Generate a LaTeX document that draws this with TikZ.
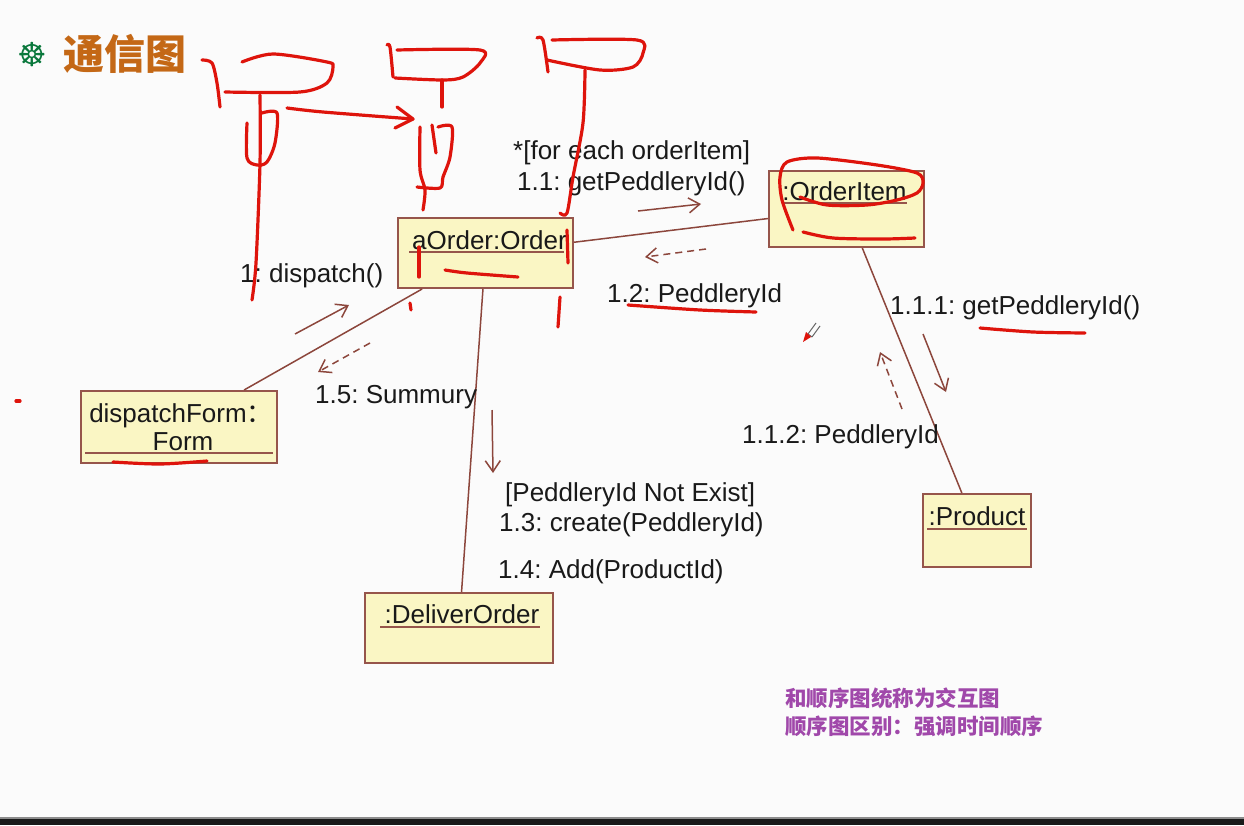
\documentclass[tikz,border=0pt]{standalone}
\usepackage{fontspec}
\setmainfont{Liberation Sans}
\newfontfamily\cjk{Noto Sans CJK SC}
\newfontfamily\symf{DejaVu Sans}
\usetikzlibrary{arrows.meta,calc}
\frenchspacing
\definecolor{bg}{RGB}{251,251,251}
\definecolor{boxfill}{RGB}{250,246,196}
\definecolor{boxline}{RGB}{150,85,75}
\definecolor{linkc}{RGB}{140,70,60}
\definecolor{ink}{RGB}{25,25,25}
\definecolor{pen}{RGB}{222,20,12}
\definecolor{titlec}{RGB}{196,104,22}
\definecolor{bulletc}{RGB}{10,120,60}
\definecolor{notec}{RGB}{160,72,170}
\begin{document}
\begin{tikzpicture}[x=1pt,y=-1pt,
  obj/.style={draw=boxline, fill=boxfill, line width=2pt, inner sep=0pt, rectangle},
  objtext/.style={inner sep=0pt, text=ink, font=\fontsize{26}{29}\selectfont, text height=18pt, text depth=0pt},
  uline/.style={draw=boxline, line width=1.5pt},
  linkline/.style={draw=linkc, line width=1.5pt},
  lbl/.style={inner sep=0pt, anchor=west, text=ink, font=\fontsize{26}{29}\selectfont, text height=18pt, text depth=0pt},
  msg/.style={draw=linkc, line width=1.5pt, -{Straight Barb[length=11pt,width=15pt]}},
  retmsg/.style={msg, dash pattern=on 7pt off 5pt},
  penline/.style={draw=pen, line width=3.2pt, line cap=round, line join=round},
  note/.style={inner sep=0pt, anchor=west, text=notec, font=\cjk\bfseries\fontsize{21.5}{24}\selectfont}
]
% background and frame
\fill[bg] (0,0) rectangle (1244,825);
\useasboundingbox (0,0) rectangle (1244,825);
\fill[black!45] (0,817) rectangle (1244,819);
\fill[black!90] (0,819) rectangle (1244,825);

% title
\node[inner sep=0pt, text=bulletc, font=\symf\bfseries\fontsize{33}{35}\selectfont] (bullet) at (32,55) {☸};
\node[inner sep=0pt, text=titlec, font=\cjk\bfseries\fontsize{41}{45}\selectfont] (title) at (125,54) {通信图};

% object boxes
\node[obj, minimum width=175, minimum height=70] (order) at (485.5,253) {};
\node[obj, minimum width=155, minimum height=76] (item) at (846.5,209) {};
\node[obj, minimum width=196, minimum height=72] (form) at (179,427) {};
\node[obj, minimum width=108, minimum height=73] (product) at (977,530.5) {};
\node[obj, minimum width=188, minimum height=70] (deliver) at (459,628) {};

\node[objtext] (ordert) at (489.5,240) {aOrder:Order};
\draw[uline] (409,252) -- (564,252);
\node[objtext] (itemt) at (844.5,191) {:OrderItem};
\draw[uline] (782,203) -- (907,203);
\node[objtext] (formt1) at (181,413) {dispatchForm{\cjk ：}};
\node[objtext] (formt2) at (183,441) {Form};
\draw[uline] (85,453) -- (273,453);
\node[objtext] (productt) at (977,516) {:Product};
\draw[uline] (927,529) -- (1027,529);
\node[objtext] (delivert) at (462,614) {:DeliverOrder};
\draw[uline] (380,627) -- (540,627);

% links
\draw[linkline] (order) -- (item);
\draw[linkline] (order) -- (form);
\draw[linkline] (order) -- (deliver);
\draw[linkline] (item) -- (product);

% message arrows
\coordinate (m11a) at (638,211); \coordinate (m11b) at (701,204);
\coordinate (m12a) at (706,249); \coordinate (m12b) at (645,257);
\coordinate (m1a) at (295,334); \coordinate (m1b) at (349,305);
\coordinate (m15a) at (370,343); \coordinate (m15b) at (318,372);
\coordinate (m13a) at (492,410); \coordinate (m13b) at (493,473);
\coordinate (m111a) at (923,334); \coordinate (m111b) at (946,392);
\coordinate (m112a) at (902,409); \coordinate (m112b) at (880,352);
\draw[msg] (m11a) -- (m11b);
\draw[retmsg] (m12a) -- (m12b);
\draw[msg] (m1a) -- (m1b);
\draw[retmsg] (m15a) -- (m15b);
\draw[msg] (m13a) -- (m13b);
\draw[msg] (m111a) -- (m111b);
\draw[retmsg] (m112a) -- (m112b);

% message labels
\node[lbl] (l11g) at (513,150) {*[for each orderItem]};
\node[lbl] (l11) at (517,181) {1.1: getPeddleryId()};
\node[lbl] (l12) at (607,293) {1.2: PeddleryId};
\node[lbl] (l1) at (240,273) {1: dispatch()};
\node[lbl] (l15) at (315,394) {1.5: Summury};
\node[lbl] (l111) at (890,305) {1.1.1: getPeddleryId()};
\node[lbl] (l112) at (742,434) {1.1.2: PeddleryId};
\node[lbl] (l13g) at (505,492) {[PeddleryId Not Exist]};
\node[lbl] (l13) at (499,522) {1.3: create(PeddleryId)};
\node[lbl] (l14) at (498,569) {1.4: Add(ProductId)};

% notes
\node[note] (note1) at (785,698) {和顺序图统称为交互图};
\node[note] (note2) at (785,726) {顺序图区别：强调时间顺序};

% red pen annotations
\draw[penline] plot[smooth, tension=0.5] coordinates {(202,60) (212,63) (217,83) (220,107)};
\draw[penline] plot[smooth, tension=0.5] coordinates {(242,62) (273,54) (327,62) (333,67) (327,83) (300,92) (225,92)};
\draw[penline] plot[smooth, tension=0.5] coordinates {(260,95) (260,163) (256,263) (252,300)};
\draw[penline] plot[smooth, tension=0.5] coordinates {(247,123) (247,158) (257,165) (267,162) (275,143) (277,113) (262,113)};
\draw[penline] plot[smooth, tension=0.5] coordinates {(287,108) (323,112) (413,119)};
\draw[penline] (397,107) -- (413,119) -- (395,128);
\draw[penline] plot[smooth, tension=0.5] coordinates {(387,45) (390,47) (393,77)};
\draw[penline] plot[smooth, tension=0.5] coordinates {(397,50) (480,50) (480,63) (463,77) (443,80) (395,78)};
\draw[penline] (442,80) -- (442,107);
\draw[penline] plot[smooth, tension=0.5] coordinates {(420,127) (420,170) (425,190) (423,210)};
\draw[penline] (432,125) -- (436,153);
\draw[penline] plot[smooth, tension=0.5] coordinates {(438,127) (452,127) (450,157) (443,177) (440,188) (417,187)};
\draw[penline] plot[smooth, tension=0.5] coordinates {(537,38) (543,40) (548,72)};
\draw[penline] plot[smooth, tension=0.5] coordinates {(552,40) (637,40) (643,53) (633,67) (600,70) (547,60)};
\draw[penline] plot[smooth, tension=0.5] coordinates {(585,70) (583,123) (573,177) (567,213) (560,213)};
\draw[penline] (419,247) -- (419,277);
\draw[penline] plot[smooth, tension=0.5] coordinates {(445,270) (467,273) (518,277)};
\draw[penline] (567,230) -- (568,263);
\draw[penline] (410,303) -- (411,310);
\draw[penline] (560,297) -- (558,327);
\draw[penline] plot[smooth, tension=0.5] coordinates {(628,305) (700,310) (756,312)};
\draw[penline] plot[smooth, tension=0.5] coordinates {(793,230) (782,200) (780,177) (787,162) (817,158) (877,165) (917,173) (923,183) (917,193) (897,200) (867,205) (827,205) (800,197)};
\draw[penline] plot[smooth, tension=0.5] coordinates {(803,232) (833,238) (883,239) (915,238)};
\draw[penline] plot[smooth, tension=0.5] coordinates {(980,328) (1033,332) (1085,333)};
\draw[penline] plot[smooth, tension=0.5] coordinates {(113,462) (160,464) (207,461)};
\draw[penline] (16,401) -- (20,401);

% pen cursor
\draw[black!60, line width=1pt] (808,334) -- (816,323) (812,337) -- (820,326) (808,334) -- (812,337);
\fill[pen] (803,342) -- (806,332) -- (811,337) -- cycle;
\end{tikzpicture}
\end{document}
